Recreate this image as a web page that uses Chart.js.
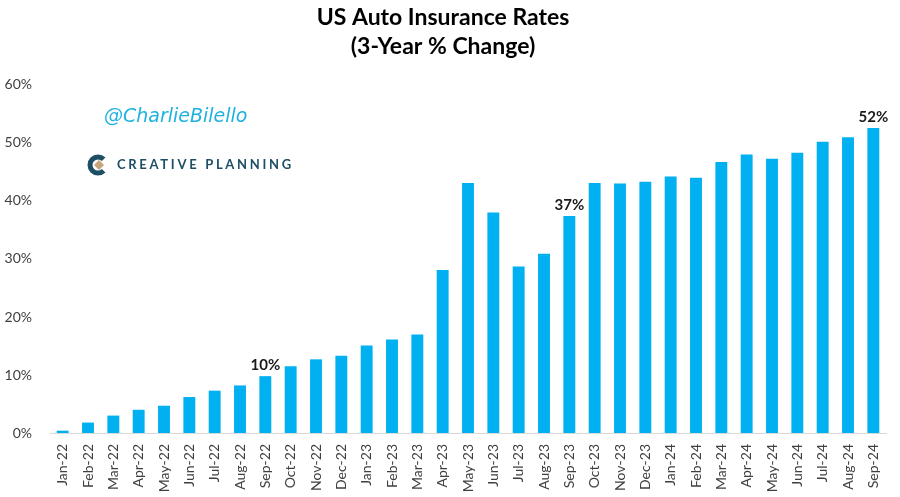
<!DOCTYPE html>
<html>
<head>
<meta charset="utf-8">
<script src="https://cdn.jsdelivr.net/npm/chart.js"></script>
<style>
  html, body { margin: 0; padding: 0; background: #fff; }
</style>
</head>
<body>
<canvas id="myChartAuto" width="900" height="497"></canvas>
<script>
//! Les données.

const months = [
    'Jan-22', 'Feb-22', 'Mar-22', 'Apr-22', 'May-22', 'Jun-22', 'Jul-22', 'Aug-22', 'Sep-22', 'Oct-22', 'Nov-22', 'Dec-22',
    'Jan-23', 'Feb-23', 'Mar-23', 'Apr-23', 'May-23', 'Jun-23', 'Jul-23', 'Aug-23', 'Sep-23', 'Oct-23', 'Nov-23', 'Dec-23',
    'Jan-24', 'Feb-24', 'Mar-24', 'Apr-24', 'May-24', 'Jun-24', 'Jul-24', 'Aug-24', 'Sep-24',
];

// 3-year % change
const rates = [
    0.4, 1.8, 3.0, 4.0, 4.7, 6.2, 7.3, 8.2, 9.8, 11.5, 12.7, 13.3,
    15.1, 16.1, 17.0, 28.1, 43.1, 38.0, 28.7, 30.9, 37.4, 43.1, 43.0, 43.3,
    44.2, 44.0, 46.7, 48.0, 47.3, 48.3, 50.2, 51.0, 52.6,
];

const yTicks = [0, 10, 20, 30, 40, 50, 60];

// bars that carry a callout
const calloutIndex = [8, 20, 32];
const calloutText = ['10%', '37%', '52%'];

//! --------------------------------------------------

//? Plugin: callouts au-dessus des barres.

const calloutPlugin = {
    id: 'callouts',
    afterDatasetsDraw(chart) {
        const ctx = chart.ctx;
        const meta = chart.getDatasetMeta(0);
        ctx.save();
        ctx.font = 'bold 15px Lato';
        ctx.fillStyle = '#1a1a1a';
        ctx.textAlign = 'center';
        ctx.textBaseline = 'bottom';
        calloutIndex.forEach((idx, i) => {
            const bar = meta.data[idx];
            ctx.fillText(calloutText[i], bar.x, bar.y - 3);
        });
        ctx.restore();
    },
};

//? Plugin: watermark + logo.

const brandPlugin = {
    id: 'brand',
    afterDraw(chart) {
        const ctx = chart.ctx;
        ctx.save();

        // @CharlieBilello
        ctx.font = 'italic 19px "DejaVu Sans"';
        ctx.fillStyle = '#1fb2e0';
        ctx.textBaseline = 'middle';
        ctx.textAlign = 'left';
        ctx.fillText('@CharlieBilello', 104, 117);

        // logo icon
        const cx = 98, cy = 165;
        ctx.strokeStyle = '#1d4e63';
        ctx.lineWidth = 5;
        ctx.beginPath();
        ctx.arc(cx, cy, 8, Math.PI * 0.25, Math.PI * 1.75);
        ctx.stroke();
        ctx.fillStyle = '#c6a57a';
        ctx.beginPath();
        ctx.moveTo(cx + 1, cy - 5);
        ctx.lineTo(cx + 6, cy);
        ctx.lineTo(cx + 1, cy + 5);
        ctx.lineTo(cx - 4, cy);
        ctx.closePath();
        ctx.fill();

        // logo text
        ctx.fillStyle = '#1d4e63';
        ctx.font = 'bold 13px Lato';
        ctx.letterSpacing = '2.7px';
        ctx.fillText('CREATIVE PLANNING', 117, 165);
        ctx.restore();
    },
};

//? Construction du graphique.

const ctxAuto = document.getElementById('myChartAuto').getContext('2d');

new Chart(ctxAuto, {
    type: 'bar',
    data: {
        labels: months,
        datasets: [
            {
                label: 'US Auto Insurance Rates',
                data: rates,
                backgroundColor: '#00b0f0',
                borderWidth: 0,
                barPercentage: 0.47,
                categoryPercentage: 1,
            },
        ],
    },
    options: {
        responsive: false,
        animation: { duration: 0 },
        layout: {
            padding: { left: 0, right: 14, top: 0, bottom: 4 },
        },
        plugins: {
            legend: { display: false },
            tooltip: { enabled: false },
            title: {
                display: true,
                text: ['US Auto Insurance Rates', '(3-Year % Change)'],
                color: '#000',
                font: { family: 'Lato', size: 23, weight: 'bold', lineHeight: 1.26 },
                padding: { top: 3, bottom: 24 },
            },
        },
        scales: {
            x: {
                grid: { display: false },
                border: { display: true, color: '#d9d9d9', width: 1 },
                ticks: {
                    autoSkip: false,
                    maxRotation: 90,
                    minRotation: 90,
                    color: '#404040',
                    font: { family: 'Lato', size: 14 },
                    padding: 3,
                },
                afterFit(scale) { scale.height = 60; },
            },
            y: {
                min: 0,
                max: 60,
                afterBuildTicks(scale) {
                    scale.ticks = yTicks.map((v) => ({ value: v }));
                },
                grid: { display: false },
                border: { display: false },
                ticks: {
                    color: '#404040',
                    font: { family: 'Lato', size: 14 },
                    padding: 10,
                    callback: (v) => v + '%',
                },
                afterFit(scale) { scale.width = 50; },
            },
        },
    },
    plugins: [calloutPlugin, brandPlugin],
});
</script>
</body>
</html>
